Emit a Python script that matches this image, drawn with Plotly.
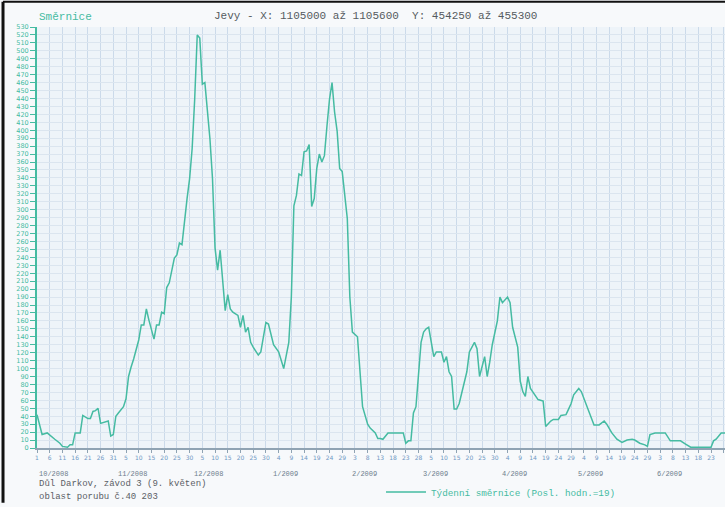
import pandas as pd
import plotly.graph_objects as go

# ---------------- data ----------------
dates = [
    "2008-10-01", "2008-10-03", "2008-10-05", "2008-10-06", "2008-10-08", "2008-10-10", "2008-10-11",
    "2008-10-13", "2008-10-14", "2008-10-15", "2008-10-16", "2008-10-18", "2008-10-19", "2008-10-21",
    "2008-10-22", "2008-10-23", "2008-10-24", "2008-10-25", "2008-10-26", "2008-10-29", "2008-10-30",
    "2008-10-31", "2008-11-01", "2008-11-02", "2008-11-04", "2008-11-05", "2008-11-06", "2008-11-07",
    "2008-11-08", "2008-11-10", "2008-11-11", "2008-11-12", "2008-11-13", "2008-11-14", "2008-11-16",
    "2008-11-17", "2008-11-18", "2008-11-19", "2008-11-20", "2008-11-21", "2008-11-22", "2008-11-24",
    "2008-11-25", "2008-11-26", "2008-11-27", "2008-11-29", "2008-11-30", "2008-12-01", "2008-12-02",
    "2008-12-03", "2008-12-04", "2008-12-05", "2008-12-06", "2008-12-08", "2008-12-09", "2008-12-10",
    "2008-12-11", "2008-12-12", "2008-12-14", "2008-12-15", "2008-12-16", "2008-12-17", "2008-12-19",
    "2008-12-20", "2008-12-21", "2008-12-22", "2008-12-23", "2008-12-24", "2008-12-25", "2008-12-27",
    "2008-12-28", "2008-12-30", "2008-12-31", "2009-01-02", "2009-01-04", "2009-01-06", "2009-01-08",
    "2009-01-09", "2009-01-10", "2009-01-11", "2009-01-12", "2009-01-13", "2009-01-14", "2009-01-15",
    "2009-01-16", "2009-01-17", "2009-01-18", "2009-01-19", "2009-01-20", "2009-01-21", "2009-01-22",
    "2009-01-23", "2009-01-24", "2009-01-25", "2009-01-26", "2009-01-27", "2009-01-28", "2009-01-29",
    "2009-01-30", "2009-01-31", "2009-02-01", "2009-02-02", "2009-02-04", "2009-02-05", "2009-02-06",
    "2009-02-08", "2009-02-09", "2009-02-11", "2009-02-12", "2009-02-13", "2009-02-14", "2009-02-16",
    "2009-02-18", "2009-02-20", "2009-02-22", "2009-02-23", "2009-02-24", "2009-02-25", "2009-02-26",
    "2009-02-27", "2009-02-28", "2009-03-01", "2009-03-02", "2009-03-03", "2009-03-04", "2009-03-05",
    "2009-03-06", "2009-03-07", "2009-03-09", "2009-03-10", "2009-03-11", "2009-03-12", "2009-03-13",
    "2009-03-14", "2009-03-15", "2009-03-16", "2009-03-18", "2009-03-19", "2009-03-20", "2009-03-22",
    "2009-03-23", "2009-03-24", "2009-03-26", "2009-03-27", "2009-03-28", "2009-03-29", "2009-03-31",
    "2009-04-01", "2009-04-02", "2009-04-04", "2009-04-05", "2009-04-06", "2009-04-08", "2009-04-09",
    "2009-04-10", "2009-04-11", "2009-04-12", "2009-04-13", "2009-04-16", "2009-04-18", "2009-04-19",
    "2009-04-21", "2009-04-22", "2009-04-24", "2009-04-25", "2009-04-27", "2009-04-28", "2009-04-29",
    "2009-04-30", "2009-05-01", "2009-05-02", "2009-05-03", "2009-05-05", "2009-05-07", "2009-05-08",
    "2009-05-10", "2009-05-12", "2009-05-13", "2009-05-15", "2009-05-17", "2009-05-19", "2009-05-21",
    "2009-05-23", "2009-05-24", "2009-05-26", "2009-05-28", "2009-05-29", "2009-05-30", "2009-06-01",
    "2009-06-04", "2009-06-05", "2009-06-07", "2009-06-08", "2009-06-11", "2009-06-13", "2009-06-15",
    "2009-06-18", "2009-06-23", "2009-06-24", "2009-06-25", "2009-06-27", "2009-06-28", "2009-06-29",
]
smernice = [
    42, 17, 19, 16, 11, 6, 2,
    1, 4, 4, 19, 19, 41, 37,
    37, 46, 47, 50, 31, 34, 15,
    17, 40, 44, 52, 62, 90, 102,
    112, 136, 155, 155, 175, 161, 137,
    155, 155, 171, 169, 202, 208, 239,
    243, 258, 256, 314, 339, 377, 439,
    520, 516, 458, 460, 389, 339, 252,
    224, 249, 173, 193, 175, 171, 167,
    152, 167, 146, 152, 133, 127, 117,
    121, 158, 156, 130, 121, 100, 133,
    190, 305, 318, 345, 343, 373, 374,
    382, 304, 314, 352, 370, 360, 368,
    405, 439, 460, 423, 399, 352, 348,
    318, 289, 190, 146, 140, 90, 52,
    30, 25, 19, 12, 12, 11, 19,
    19, 19, 19, 6, 9, 9, 44,
    52, 90, 133, 146, 150, 152, 133,
    115, 121, 121, 108, 115, 96, 90,
    49, 49, 56, 81, 96, 121, 133,
    125, 90, 115, 90, 108, 130, 160,
    190, 183, 190, 183, 152, 127, 84,
    71, 65, 90, 75, 61, 59, 27,
    34, 36, 36, 41, 42, 49, 56,
    67, 71, 75, 71, 55, 37, 29,
    29, 34, 30, 19, 11, 7, 10,
    11, 10, 6, 4, 2, 17, 19,
    19, 19, 9, 9, 9, 5, 1,
    1, 1, 9, 11, 19, 19, 19,
]

month_starts = ["2008-10-01", "2008-11-01", "2008-12-01", "2009-01-01", "2009-02-01",
                "2009-03-01", "2009-04-01", "2009-05-01", "2009-06-01"]
month_labels = ["10/2008", "11/2008", "12/2008", "1/2009", "2/2009",
                "3/2009", "4/2009", "5/2009", "6/2009"]

TEAL = "#45bba2"
MONO = "Liberation Mono"

df = pd.DataFrame({"date": pd.to_datetime(dates), "val": smernice})

fig = go.Figure()
fig.add_trace(go.Scatter(x=df["date"], y=df["val"], mode="lines", name="Týdenní směrnice (Posl. hodn.=19)",
                         line=dict(color=TEAL, width=1.5)))

# month captions under the day ticks
for d, lab in zip(month_starts, month_labels):
    fig.add_annotation(x=d, y=0, yref="y", text=lab, showarrow=False, xanchor="left", yanchor="top",
                       yshift=-20, font=dict(family=MONO, size=7, color="#6d7d8c"))

fig.add_annotation(x=0, y=1.024, xref="paper", yref="paper", text="Směrnice", showarrow=False,
                   xanchor="left", yanchor="middle", font=dict(family=MONO, size=11, color=TEAL))
fig.add_annotation(x=0.255, y=1.026, xref="paper", yref="paper",
                   text="Jevy - X: 1105000 až 1105600  Y: 454250 až 455300", showarrow=False,
                   xanchor="left", yanchor="middle", font=dict(family=MONO, size=11, color="#555b60"))
fig.add_annotation(x=0, y=-0.086, xref="paper", yref="paper", text="Důl Darkov, závod 3 (9. květen)",
                   showarrow=False, xanchor="left", yanchor="middle",
                   font=dict(family=MONO, size=9, color="#5b6066"))
fig.add_annotation(x=0, y=-0.117, xref="paper", yref="paper", text="oblast porubu č.40 203",
                   showarrow=False, xanchor="left", yanchor="middle",
                   font=dict(family=MONO, size=9, color="#5b6066"))

# scan edge (dark border on left and top)
fig.add_shape(type="line", xref="paper", yref="paper", x0=-0.0494, x1=-0.0494, y0=-0.13, y1=1.06,
              line=dict(color="#111", width=3))
fig.add_shape(type="line", xref="paper", yref="paper", x0=-0.0494, x1=1.0, y0=1.06, y1=1.06,
              line=dict(color="#111", width=2))

fig.update_xaxes(type="date", range=["2008-10-01", "2009-06-28 12:00"],
                 tick0="2008-10-01", dtick=5 * 86400000, tickformat="%-d",
                 ticks="outside", ticklen=3, tickcolor="#8fa3b3",
                 tickfont=dict(family="DejaVu Sans", size=6, color="#6f98c4"),
                 showgrid=True, gridcolor="#cbdaea", gridwidth=1,
                 showline=True, linecolor="#8fa3b3", linewidth=2, zeroline=False)
fig.update_yaxes(range=[0, 530], dtick=10, tick0=0,
                 ticks="outside", ticklen=5, tickcolor=TEAL,
                 tickfont=dict(family="DejaVu Sans", size=6.5, color=TEAL),
                 showgrid=True, gridcolor="#dbe5ef", gridwidth=1,
                 showline=True, linecolor=TEAL, linewidth=2, zeroline=False)

fig.update_layout(
    width=725, height=507,
    margin=dict(l=37, r=0, t=27, b=55),
    paper_bgcolor="#f7f9fb", plot_bgcolor="#eef4f9",
    showlegend=True,
    legend=dict(orientation="h", x=0.50, y=-0.07, xanchor="left", yanchor="top",
                bgcolor="rgba(0,0,0,0)", font=dict(family=MONO, size=9.3, color=TEAL), itemwidth=40),
)

# the page's default body margin would push the figure 8px right/down
fig.write_html("out.html", config={"displayModeBar": False},
               post_script="document.body.style.margin='0px';")
